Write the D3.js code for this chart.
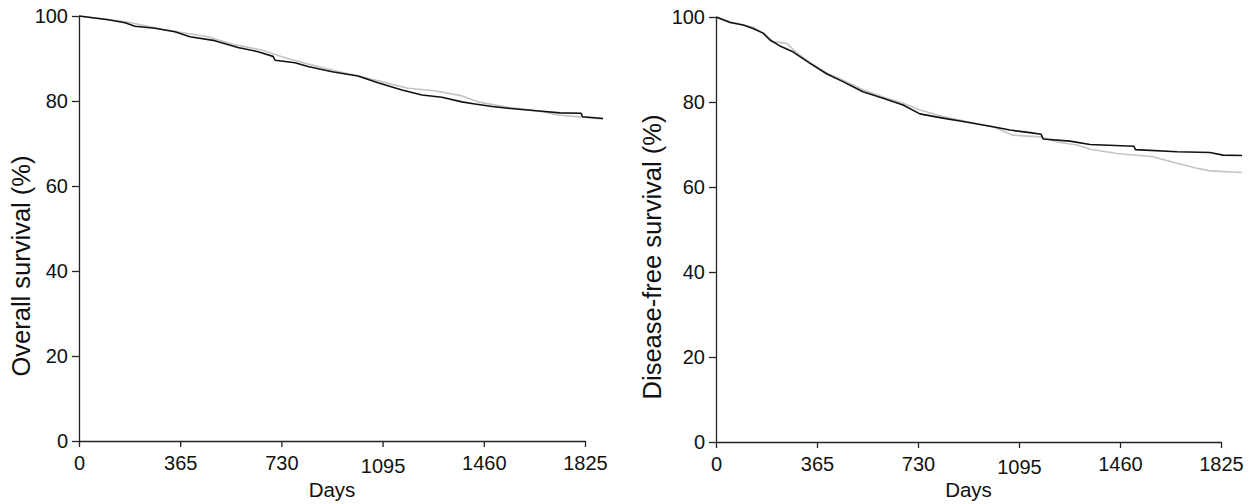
<!DOCTYPE html>
<html>
<head>
<meta charset="utf-8">
<script src="https://cdn.jsdelivr.net/npm/d3@7"></script>
<style>
  html, body { margin: 0; padding: 0; background: #fff; }
  svg { display: block; }
  text { font-family: "Liberation Sans", Arial, Helvetica, sans-serif; fill: #111; }
</style>
</head>
<body>
<svg id="chart" width="1252" height="504"></svg>
<script>
// ---- Data ----
const xTicks = [0, 365, 730, 1095, 1460, 1825];
const yTicks = [0, 20, 40, 60, 80, 100];

// Overall survival: [day, percent]
const osBlackDays = [0, 105, 166, 202, 274, 346, 400, 490, 573, 646, 700, 707, 779, 826, 913, 1006, 1078, 1165, 1237, 1309, 1381, 1428, 1490, 1547, 1670, 1735, 1811, 1816, 1890];
const osBlackPct  = [100, 99.1, 98.4, 97.6, 97.1, 96.3, 95.1, 94.2, 92.6, 91.6, 90.5, 89.6, 89.0, 88.1, 86.9, 85.9, 84.3, 82.6, 81.4, 80.9, 79.8, 79.3, 78.7, 78.3, 77.6, 77.2, 77.1, 76.3, 75.9];
const osGreyDays  = [0, 166, 227, 299, 393, 465, 563, 660, 732, 815, 923, 1021, 1093, 1187, 1284, 1381, 1439, 1547, 1670, 1728, 1814, 1890];
const osGreyPct   = [100, 98.7, 97.9, 96.9, 95.9, 95.1, 93.2, 92.0, 90.4, 88.9, 87.1, 85.7, 84.5, 83.0, 82.4, 81.2, 79.8, 78.5, 77.5, 76.7, 76.2, 75.8];

// Disease-free survival: [day, percent]
const dfsBlackDays = [0, 51, 98, 134, 170, 195, 231, 278, 340, 401, 459, 531, 604, 676, 737, 820, 893, 965, 1015, 1062, 1135, 1175, 1182, 1279, 1352, 1510, 1516, 1666, 1785, 1832, 1901];
const dfsBlackPct  = [100, 98.7, 98.1, 97.3, 96.2, 94.6, 93.2, 91.8, 89.1, 86.6, 84.8, 82.4, 80.9, 79.3, 77.2, 76.2, 75.4, 74.6, 74.0, 73.4, 72.8, 72.4, 71.3, 70.8, 70.0, 69.6, 68.8, 68.3, 68.1, 67.5, 67.4];
const dfsGreyDays  = [0, 51, 134, 177, 206, 256, 293, 340, 401, 459, 531, 604, 676, 737, 820, 893, 965, 1001, 1073, 1171, 1233, 1305, 1352, 1449, 1579, 1666, 1738, 1785, 1901];
const dfsGreyPct   = [100, 98.9, 97.6, 96.0, 94.2, 93.8, 91.5, 89.3, 86.8, 85.1, 82.9, 81.2, 79.7, 78.1, 76.6, 75.6, 74.6, 74.2, 72.2, 71.8, 70.6, 69.9, 68.9, 67.9, 67.1, 65.6, 64.4, 63.8, 63.4];

const xTitle = "Days";
const yTitles = ["Overall survival (%)", "Disease-free survival (%)"];

// ---- Layout ----
const svg = d3.select("#chart");
const panels = [
  { x0: 79,  x1: 585,  y0: 441, y1: 16, labelX: 21,  labelY: 266, title: yTitles[0],
    series: [{d: osGreyDays, p: osGreyPct, c: "#c4c4c4"}, {d: osBlackDays, p: osBlackPct, c: "#111"}] },
  { x0: 716, x1: 1221, y0: 442, y1: 17, labelX: 652, labelY: 257, title: yTitles[1],
    series: [{d: dfsGreyDays, p: dfsGreyPct, c: "#c4c4c4"}, {d: dfsBlackDays, p: dfsBlackPct, c: "#111"}] }
];

panels.forEach(pn => {
  const x = d3.scaleLinear().domain([0, 1825]).range([pn.x0, pn.x1]);
  const y = d3.scaleLinear().domain([0, 100]).range([pn.y0, pn.y1]);
  const g = svg.append("g");

  // curves
  const line = d3.line().x(d => x(d[0])).y(d => y(d[1]));
  pn.series.forEach(s => {
    const pts = s.d.map((dd, i) => [dd, s.p[i]]);
    g.append("path").datum(pts)
      .attr("d", line).attr("fill", "none")
      .attr("stroke", s.c).attr("stroke-width", 1.6).attr("stroke-linejoin", "round");
  });

  // axes
  const xa = g.append("g").attr("transform", `translate(0,${pn.y0})`)
    .call(d3.axisBottom(x).tickValues(xTicks).tickSizeInner(6).tickSizeOuter(0).tickPadding(9).tickFormat(d3.format("d")));
  const ya = g.append("g").attr("transform", `translate(${pn.x0},0)`)
    .call(d3.axisLeft(y).tickValues(yTicks).tickSizeInner(7).tickSizeOuter(0).tickPadding(4).tickFormat(d3.format("d")));
  [xa, ya].forEach(a => {
    a.selectAll("path.domain").attr("stroke", "#222").attr("stroke-width", 1.3);
    a.selectAll(".tick line").attr("stroke", "#222").attr("stroke-width", 1.3);
    a.selectAll(".tick text").attr("font-size", 20).style("font-family", '"Liberation Sans", Arial, sans-serif').attr("fill", "#111");
  });
  xa.selectAll(".tick text").filter(d => d === 1095).attr("dy", "0.86em");

  // titles
  g.append("text").attr("x", (pn.x0 + pn.x1) / 2).attr("y", 497)
    .attr("text-anchor", "middle").attr("font-size", 20.5).text(xTitle);
  g.append("text")
    .attr("transform", `translate(${pn.labelX},${pn.labelY}) rotate(-90)`)
    .attr("text-anchor", "middle").attr("dy", "0.35em").attr("font-size", 25.5).text(pn.title);
});
</script>
</body>
</html>
